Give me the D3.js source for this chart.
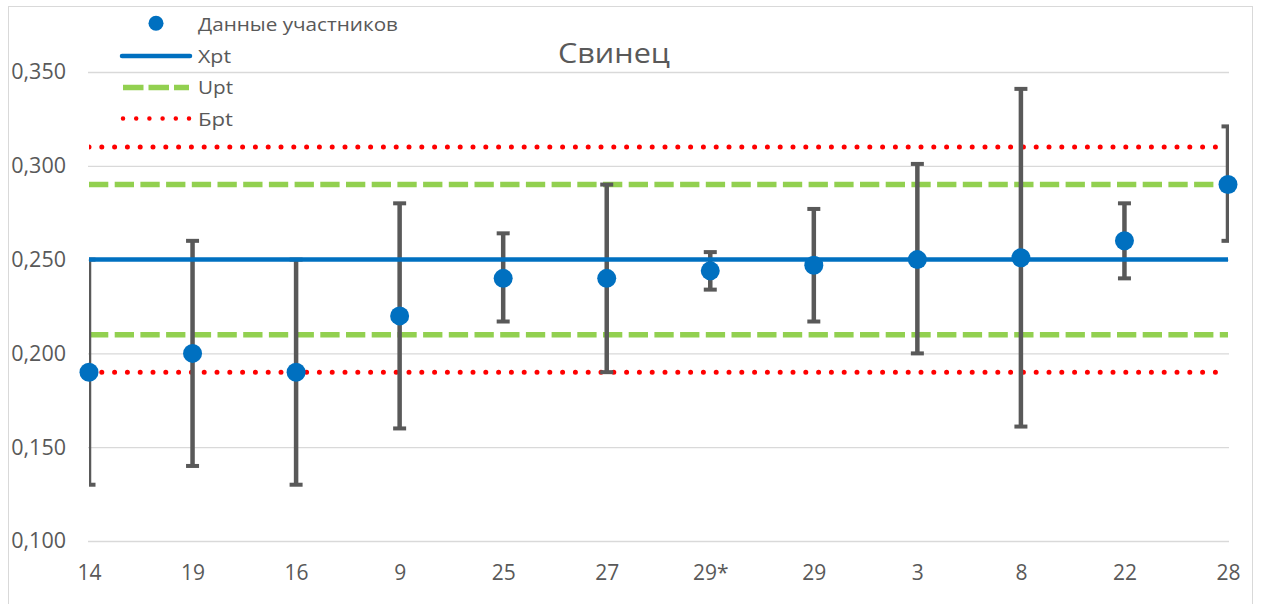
<!DOCTYPE html>
<html>
  <head>
    <meta charset="utf-8">
    <style>
      body { margin: 0; background: #fff; }
      text { font-family: "Open Sans", "Noto Sans", sans-serif; fill: #595959; }
    </style>
  </head>
  <body>
    <svg width="1261" height="604"></svg>
    <script src="https://d3js.org/d3.v7.min.js"></script>
    <script>
    // участники, значения и неопределённости
    var labels = ["14", "19", "16", "9", "25", "27", "29*", "29", "3", "8", "22", "28"];
    var values = [0.190, 0.200, 0.190, 0.220, 0.240, 0.240, 0.244, 0.247, 0.250, 0.251, 0.260, 0.290];
    var lows   = [0.130, 0.140, 0.130, 0.160, 0.217, 0.190, 0.234, 0.217, 0.200, 0.161, 0.240, 0.260];
    var highs  = [0.250, 0.260, 0.250, 0.280, 0.264, 0.290, 0.254, 0.277, 0.301, 0.341, 0.280, 0.321];
    var xpt = [0.250];
    var upt = [0.210, 0.290];
    var bpt = [0.190, 0.310];
    var yTicks = [0.100, 0.150, 0.200, 0.250, 0.300, 0.350];

    var svg = d3.select("svg");
    var plotL = 89, plotR = 1228, plotT = 72, plotB = 541;

    var x = d3.scalePoint().domain(labels).range([plotL, plotR]).padding(0);
    var y = d3.scaleLinear().domain([0.1, 0.35]).range([plotB, plotT]);

    var fmt = function(d) { return d3.format(".3f")(d).replace(".", ","); };

    // рамка диаграммы
    svg.append("rect").attr("x", 8.5).attr("y", 6.5).attr("width", 1244).attr("height", 610)
        .attr("fill", "none").attr("stroke", "#d9d9d9");

    svg.append("defs").append("clipPath").attr("id", "plot")
      .append("rect").attr("x", plotL).attr("y", 0).attr("width", plotR - plotL + 1).attr("height", 604);

    // сетка и подписи оси Y
    svg.append("g")
        .attr("transform", "translate(" + (plotL - 1) + ",0)")
        .call(d3.axisLeft(y).tickValues(yTicks).tickSize(-(plotR - plotL + 2)).tickFormat(fmt))
        .call(function(g) {
          g.select(".domain").remove();
          g.selectAll(".tick line").attr("stroke", "#d9d9d9").attr("stroke-width", 1.3);
          g.selectAll(".tick text").attr("x", -22).attr("font-size", 21.5)
              .attr("font-family", null).style("fill", "#595959");
        });

    svg.append("g")
        .attr("transform", "translate(0," + plotB + ")")
        .call(d3.axisBottom(x).tickSize(0).tickPadding(24))
        .call(function(g) {
          g.select(".domain").remove();
          g.selectAll(".tick text").attr("font-size", 21)
              .attr("font-family", null).style("fill", "#595959");
        });

    var plot = svg.append("g").attr("clip-path", "url(#plot)");

    function hline(g, v, color, width, dash, cap) {
      g.append("line")
          .attr("x1", plotL).attr("x2", plotR)
          .attr("y1", y(v)).attr("y2", y(v))
          .attr("stroke", color).attr("stroke-width", width)
          .attr("stroke-dasharray", dash).attr("stroke-linecap", cap);
    }

    bpt.forEach(function(v) { hline(plot, v, "#ff0000", 5, "0 12.8", "round"); });
    upt.forEach(function(v) { hline(plot, v, "#92d050", 5.5, "19.3 6.4", "butt"); });

    // планки погрешностей
    var eb = plot.selectAll(".eb").data(labels).enter().append("g").attr("class", "eb");
    eb.append("line")
        .attr("x1", function(d) { return x(d); }).attr("x2", function(d) { return x(d); })
        .attr("y1", function(d, i) { return y(lows[i]); })
        .attr("y2", function(d, i) { return y(highs[i]); })
        .attr("stroke", "#595959").attr("stroke-width", 4.5);
    [lows, highs].forEach(function(arr) {
      eb.append("line")
          .attr("x1", function(d) { return x(d) - 6.5; }).attr("x2", function(d) { return x(d) + 6.5; })
          .attr("y1", function(d, i) { return y(arr[i]); })
          .attr("y2", function(d, i) { return y(arr[i]); })
          .attr("stroke", "#595959").attr("stroke-width", 4);
    });

    xpt.forEach(function(v) { hline(plot, v, "#0070c0", 4.5, null, "butt"); });

    svg.selectAll(".pt").data(labels).enter().append("circle")
        .attr("cx", function(d) { return x(d); })
        .attr("cy", function(d, i) { return y(values[i]); })
        .attr("r", 9.5)
        .attr("fill", "#0070c0");

    // заголовок
    svg.append("text").attr("x", 558).attr("y", 63)
        .attr("font-size", 26.5).attr("textLength", 112).attr("lengthAdjust", "spacingAndGlyphs")
        .text("Свинец");

    // легенда
    var lg = svg.append("g");
    lg.append("circle").attr("cx", 156).attr("cy", 23.3).attr("r", 7.5).attr("fill", "#0070c0");
    lg.append("line").attr("x1", 122).attr("x2", 190).attr("y1", 56).attr("y2", 56)
        .attr("stroke", "#0070c0").attr("stroke-width", 4.5).attr("stroke-linecap", "round");
    lg.append("line").attr("x1", 123).attr("x2", 189).attr("y1", 87.5).attr("y2", 87.5)
        .attr("stroke", "#92d050").attr("stroke-width", 5.5).attr("stroke-dasharray", "20.5 5");
    lg.append("line").attr("x1", 123).attr("x2", 190).attr("y1", 118.5).attr("y2", 118.5)
        .attr("stroke", "#ff0000").attr("stroke-width", 4.5).attr("stroke-dasharray", "0 13.2")
        .attr("stroke-linecap", "round");
    var names = ["Данные участников", "Xpt", "Upt", "Бpt"];
    var widths = [200, 33, 35, 35];
    lg.selectAll(".ln").data(names).enter().append("text")
        .attr("x", 198).attr("y", function(d, i) { return 31 + i * 31.7; })
        .attr("font-size", 18)
        .attr("textLength", function(d, i) { return widths[i]; })
        .attr("lengthAdjust", "spacingAndGlyphs")
        .text(function(d) { return d; });
    </script>
  </body>
</html>
